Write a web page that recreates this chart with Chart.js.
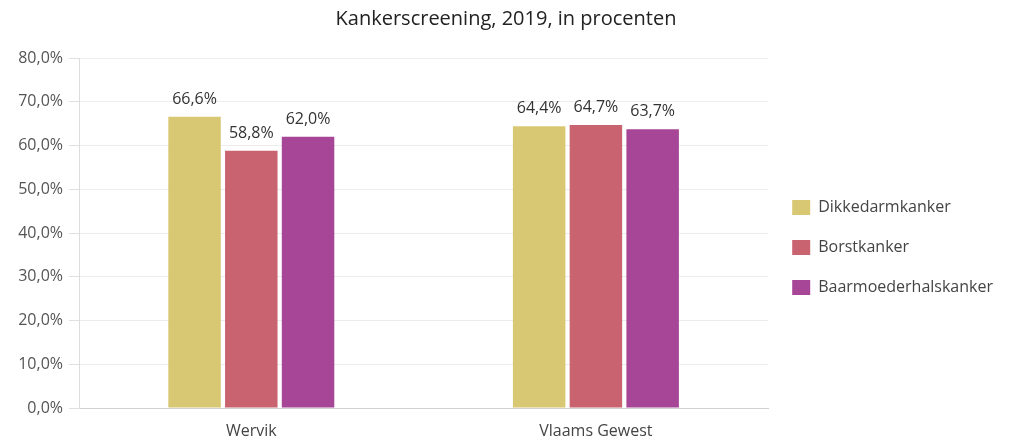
<!DOCTYPE html>
<html>
<head>
<meta charset="utf-8">
<script src="https://cdn.jsdelivr.net/npm/chart.js@4"></script>
<style>
  html, body { margin: 0; padding: 0; background: #fff; }
  #wrap { width: 1014px; height: 441px; }
</style>
</head>
<body>
<div id="wrap"><canvas id="grafiek"></canvas></div>
<script>
const categorieen = ["Wervik", "Vlaams Gewest"];
const dikkedarm = [66.6, 64.4];
const borst = [58.8, 64.7];
const baarmoederhals = [62.0, 63.7];

const fontFamilie = "'Open Sans', 'Noto Sans', sans-serif";

function procent(v) {
    return v.toFixed(1).replace(".", ",") + "%";
}

// percentages boven de staven
const waardeLabels = {
    id: "waardeLabels",
    afterDatasetsDraw(chart) {
        const ctx = chart.ctx;
        ctx.save();
        ctx.font = "16px " + fontFamilie;
        ctx.fillStyle = "#333";
        ctx.textAlign = "center";
        ctx.textBaseline = "alphabetic";
        chart.data.datasets.forEach((dataset, i) => {
            const meta = chart.getDatasetMeta(i);
            meta.data.forEach((bar, j) => {
                ctx.fillText(procent(dataset.data[j]), bar.x, bar.y - 13);
            });
        });
        ctx.restore();
    },
};

const canvasGrafiek = document.getElementById("grafiek");
const grafiek = new Chart(canvasGrafiek, {
    type: "bar",
    data: {
        labels: categorieen,
        datasets: [
            { label: "Dikkedarmkanker", data: dikkedarm, backgroundColor: "#d9c873" },
            { label: "Borstkanker", data: borst, backgroundColor: "#c96370" },
            { label: "Baarmoederhalskanker", data: baarmoederhals, backgroundColor: "#a74596" },
        ],
    },
    options: {
        responsive: true,
        maintainAspectRatio: false,
        animation: false,
        datasets: {
            bar: { categoryPercentage: 0.494, barPercentage: 0.925 },
        },
        layout: { padding: { left: 9, right: 11, top: 0, bottom: 0 } },
        plugins: {
            title: {
                display: true,
                text: "Kankerscreening, 2019, in procenten",
                color: "#222",
                font: { family: fontFamilie, size: 20, weight: "normal" },
                padding: { top: 7, bottom: 27 },
            },
            legend: {
                position: "right",
                title: {
                    display: true,
                    text: " ",
                    font: { size: 1 },
                    padding: { top: 0, bottom: 53 },
                },
                labels: {
                    color: "#444",
                    font: { family: fontFamilie, size: 16 },
                    boxWidth: 18,
                    boxHeight: 15,
                    padding: 24,
                },
            },
            tooltip: { enabled: false },
        },
        scales: {
            x: {
                afterFit: (schaal) => { schaal.height = 33; },
                grid: { display: false, drawTicks: false },
                border: { display: true, color: "#d0d0d0", width: 1 },
                ticks: {
                    color: "#444",
                    font: { family: fontFamilie, size: 16 },
                    padding: 14,
                },
            },
            y: {
                min: 0,
                max: 80,
                afterFit: (schaal) => { schaal.width = 70; },
                grid: { color: "#ececec", tickLength: 10, tickColor: "#e0e0e0" },
                border: { display: true, color: "#dcdcdc", width: 1 },
                ticks: {
                    stepSize: 10,
                    color: "#555",
                    font: { family: fontFamilie, size: 16 },
                    padding: 6,
                    callback: (v) => procent(v),
                },
            },
        },
    },
    plugins: [waardeLabels],
});
</script>
</body>
</html>
